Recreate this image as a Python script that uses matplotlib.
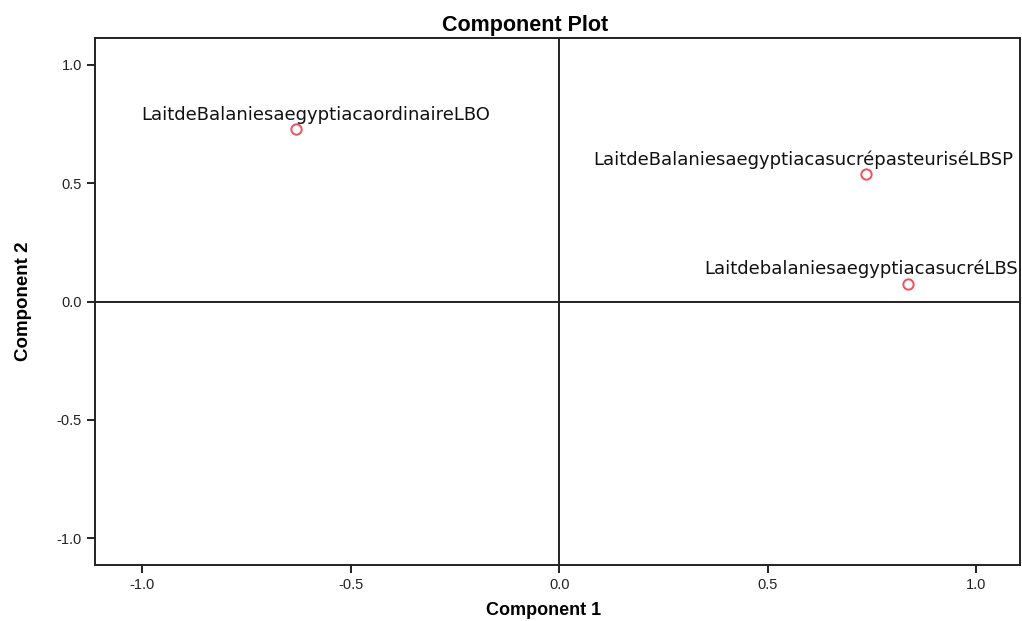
import matplotlib.pyplot as plt

plt.rcParams["font.family"] = ["Liberation Sans", "DejaVu Sans"]

# component loadings
names = [
    "LaitdeBalaniesaegyptiacaordinaireLBO",
    "LaitdeBalaniesaegyptiacasucrépasteuriséLBSP",
    "LaitdebalaniesaegyptiacasucréLBS",
]
comp1 = [-0.631, 0.736, 0.837]
comp2 = [0.731, 0.541, 0.076]
ticks = [-1.0, -0.5, 0.0, 0.5, 1.0]
tick_labels = ["-1.0", "-0.5", "0.0", "0.5", "1.0"]

# label offsets (points) relative to each marker
label_offsets = [(14, 6.5), (-45, 6.5), (-34, 6.5)]

fig = plt.figure(figsize=(10.22, 6.21), dpi=100)
ax = fig.add_axes([95 / 1022, 56 / 621, 925 / 1022, 527 / 621])

ax.axhline(0, color="#222222", lw=1.4, zorder=1)
ax.axvline(0, color="#222222", lw=1.4, zorder=1)

ax.scatter(comp1, comp2, s=55, facecolors="white", edgecolors="#f0505a",
           linewidths=1.4, zorder=3)

for name, x, y, off in zip(names, comp1, comp2, label_offsets):
    ax.annotate(name, (x, y), xytext=off, textcoords="offset points",
                ha="center", va="baseline", fontsize=13, color="#111111",
                family="DejaVu Sans")

ax.set_xlim(-1.113, 1.105)
ax.set_ylim(-1.114, 1.114)
ax.set_xticks(ticks)
ax.set_xticklabels(tick_labels)
ax.set_yticks(ticks)
ax.set_yticklabels(tick_labels)
ax.tick_params(direction="out", length=6, width=1.4, labelsize=10.5, colors="#222222")

for sp in ax.spines.values():
    sp.set_linewidth(1.4)
    sp.set_color("#222222")

ax.set_title("Component Plot", fontsize=15.5, fontweight="bold", pad=5,
             x=(525 - 95) / 925)
ax.set_xlabel("Component 1", fontsize=13, fontweight="bold")
ax.xaxis.set_label_coords((544 - 95) / 925, -0.07)
ax.set_ylabel("Component 2", fontsize=13.5, fontweight="bold", labelpad=18)

fig.savefig("out.png", dpi=100)
